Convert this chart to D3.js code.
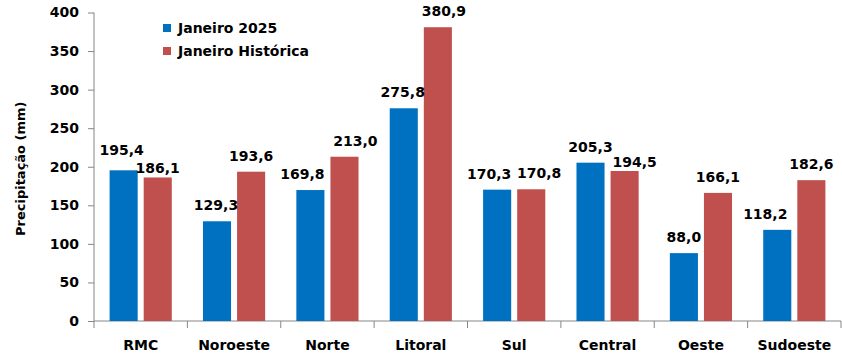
<!DOCTYPE html>
<html>
<head>
<meta charset="utf-8">
<script src="https://cdn.jsdelivr.net/npm/d3@7"></script>
<style>
  body { margin: 0; background: #fff; }
  text { font-family: "DejaVu Sans", Verdana, sans-serif; font-weight: bold; fill: #000; }
</style>
</head>
<body>
<div class="chart"></div>
<script>
let width = 842, height = 363;

let margin = { top: 12.5, bottom: 42, left: 94, right: 1 };

// dados
let regioes = ["RMC", "Noroeste", "Norte", "Litoral", "Sul", "Central", "Oeste", "Sudoeste"];
let jan2025 = [195.4, 129.3, 169.8, 275.8, 170.3, 205.3, 88.0, 118.2];
let janHistorica = [186.1, 193.6, 213.0, 380.9, 170.8, 194.5, 166.1, 182.6];
let series = ["Janeiro 2025", "Janeiro Histórica"];
let cores = ["#0070C0", "#C0504D"];
let yTicks = [0, 50, 100, 150, 200, 250, 300, 350, 400];

// ajustes manuais dos rotulos (como no original), [serie][regiao]
let rotuloDx = [[-2, -1, -8, -1, -8, 0, 0, -12], [0, 0, 11, 6, 8, 10, 0, 0]];
let rotuloDy = [[-4, 0, 0, 0, 0, 0, 0, 0], [7, 0, 0, 0, 0, 7, 0, 0]];

let svg = d3.select(".chart").append("svg")
    .attr("width", width)
    .attr("height", height);

let x0 = d3.scaleBand()
    .domain(regioes)
    .range([margin.left, width - margin.right]);

let x1 = d3.scaleBand()
    .domain([0, 1])
    .range([15.6, x0.bandwidth() - 15.6])
    .paddingInner(6 / 34);

let y = d3.scaleLinear()
    .domain([0, 400])
    .range([height - margin.bottom, margin.top]);

// eixo y
let yAxis = svg.append("g")
    .attr("transform", `translate(${margin.left},0)`)
    .call(d3.axisLeft(y).tickValues(yTicks).tickSize(6).tickPadding(9));
yAxis.selectAll("path, line").attr("stroke", "#868686");
yAxis.select(".domain").attr("d", `M0,${y(400)}V${y(0)}`);
yAxis.selectAll("text").style("font-size", "14px");

// eixo x (marcas entre categorias)
let xg = svg.append("g");
xg.append("line")
    .attr("x1", margin.left).attr("x2", width - margin.right)
    .attr("y1", y(0)).attr("y2", y(0))
    .attr("stroke", "#868686");
let bordas = regioes.map(d => x0(d)).concat([x0(regioes[regioes.length - 1]) + x0.bandwidth()]);
xg.selectAll(".tk").data(bordas).join("line")
    .attr("x1", d => d).attr("x2", d => d)
    .attr("y1", y(0)).attr("y2", y(0) + 7)
    .attr("stroke", "#868686");
xg.selectAll(".cat").data(regioes).join("text")
    .attr("x", d => x0(d) + x0.bandwidth() / 2)
    .attr("y", y(0) + 29)
    .attr("text-anchor", "middle")
    .style("font-size", "14px")
    .text(d => d);

// barras
let dados = regioes.map((r, i) => ({
    regiao: r,
    valores: [jan2025[i], janHistorica[i]].map((v, s) => ({ v: v, s: s, i: i }))
}));

let grupos = svg.selectAll(".grupo").data(dados).join("g")
    .attr("transform", d => `translate(${x0(d.regiao)},0)`);

grupos.selectAll("rect").data(d => d.valores).join("rect")
    .attr("x", d => x1(d.s))
    .attr("width", x1.bandwidth())
    .attr("y", d => y(d.v))
    .attr("height", d => y(0) - y(d.v))
    .attr("fill", d => cores[d.s]);

grupos.selectAll(".rot").data(d => d.valores).join("text")
    .attr("x", d => x1(d.s) + x1.bandwidth() / 2 + rotuloDx[d.s][d.i])
    .attr("y", d => y(d.v) - 11 + rotuloDy[d.s][d.i])
    .attr("text-anchor", "middle")
    .style("font-size", "14px")
    .text(d => d.v.toFixed(1).replace(".", ","));

// legenda
let leg = svg.append("g").attr("transform", "translate(163,24)");
series.forEach((s, i) => {
    leg.append("rect")
        .attr("x", 0).attr("y", i * 23)
        .attr("width", 8).attr("height", 8)
        .attr("fill", cores[i]);
    leg.append("text")
        .attr("x", 15).attr("y", i * 23 + 9)
        .style("font-size", "14px")
        .text(s);
});

// titulo eixo y
svg.append("text")
    .attr("transform", `translate(25,${(y(0) + y(400)) / 2 + 2}) rotate(-90)`)
    .attr("text-anchor", "middle")
    .style("font-size", "13px")
    .text("Precipitação (mm)");
</script>
</body>
</html>
